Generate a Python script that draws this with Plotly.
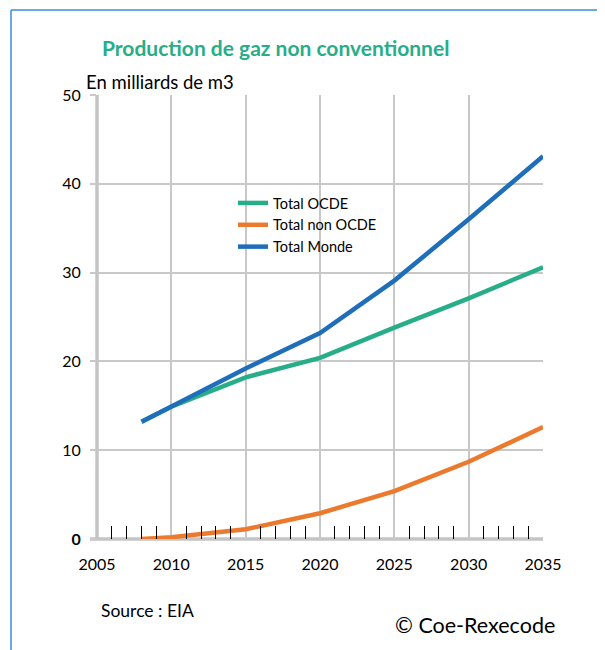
import plotly.graph_objects as go

years = [2008, 2010, 2015, 2020, 2025, 2030, 2035]
ocde = [13.2, 14.9, 18.2, 20.4, 23.8, 27.1, 30.6]
non_ocde = [0.0, 0.2, 1.1, 2.9, 5.4, 8.7, 12.6]
monde = [13.2, 14.9, 19.2, 23.2, 29.1, 36.0, 43.1]

series_names = ["Total OCDE", "Total non OCDE", "Total Monde"]
colors = ["#27AE88", "#EB7A2F", "#1F6EBA"]

x_ticks = [2005, 2010, 2015, 2020, 2025, 2030, 2035]
minor_ticks = [y for y in range(2006, 2035) if y % 5 != 0]
y_ticks = [0, 10, 20, 30, 40, 50]
y_labels = ["<b>0</b>", "10", "20", "30", "40", "50"]

OFF = 8  # page body margin
W, H = 605, 650
# target plot area in page pixels: x 97..543, y 95..539
L = 97 - OFF
T = 95 - OFF
R = W - (543 - OFF)
B = H - (539 - OFF)
pw, ph = W - L - R, H - T - B

def px(xp):
    return (xp - OFF - L) / pw

def py(yp):
    return (H - B - (yp - OFF)) / ph

fig = go.Figure()
for name, vals, col in zip(series_names, [ocde, non_ocde, monde], colors):
    fig.add_trace(go.Scatter(x=years, y=vals, mode="lines", name=name,
                             line=dict(color=col, width=4.5)))

font_family = "Lato, 'Open Sans', sans-serif"

fig.update_layout(
    width=W, height=H,
    margin=dict(l=L, r=R, t=T, b=B),
    paper_bgcolor="white", plot_bgcolor="white",
    font=dict(family=font_family, color="black"),
    showlegend=True,
    legend=dict(x=px(233), y=py(187), xanchor="left", yanchor="top",
                font=dict(size=14.5, color="black"), bgcolor="rgba(0,0,0,0)",
                itemwidth=30, tracegroupgap=0),
    xaxis=dict(range=[2005, 2035], tickvals=x_ticks, showgrid=True,
               gridcolor="#C8C8C8", gridwidth=1.5, zeroline=False,
               showline=False, ticks="", tickfont=dict(size=16),
               ticklabelstandoff=14,
               minor=dict(tickmode="array", tickvals=minor_ticks, ticks="inside",
                          ticklen=13, tickcolor="black", tickwidth=1, showgrid=False)),
    yaxis=dict(range=[0, 50], tickvals=y_ticks, ticktext=y_labels, showgrid=True,
               gridcolor="#C8C8C8", gridwidth=1.5, zeroline=False,
               showline=False, ticks="outside", ticklen=6, tickcolor="#C8C8C8",
               tickwidth=1.5, tickfont=dict(size=16), ticklabelstandoff=6),
)

# thicker axis lines
fig.add_shape(type="line", xref="paper", yref="paper", x0=0, x1=0, y0=0, y1=1,
              line=dict(color="#C4C4C4", width=3.5), layer="below")
fig.add_shape(type="line", xref="paper", yref="paper", x0=-7 / pw, x1=1, y0=0, y1=0,
              line=dict(color="#C4C4C4", width=3.5), layer="below")

# outer frame (blue)
fx0 = px(11)
fy1 = py(10)
fig.add_shape(type="line", xref="paper", yref="paper", x0=fx0, x1=fx0, y0=-2, y1=fy1,
              line=dict(color="#3A8DD8", width=1.5))
fig.add_shape(type="line", xref="paper", yref="paper", x0=fx0, x1=3, y0=fy1, y1=fy1,
              line=dict(color="#3A8DD8", width=1.5))

fig.add_annotation(text="<b>Production de gaz non conventionnel</b>", xref="paper", yref="paper",
                   x=px(275), y=py(47), xanchor="center", yanchor="middle", showarrow=False,
                   font=dict(size=21, color="#27AE88", family=font_family))
fig.add_annotation(text="En milliards de m3", xref="paper", yref="paper",
                   x=px(84), y=py(82), xanchor="left", yanchor="middle", showarrow=False,
                   font=dict(size=18.5, color="black", family=font_family))
fig.add_annotation(text="Source : EIA", xref="paper", yref="paper",
                   x=px(99), y=py(610), xanchor="left", yanchor="middle", showarrow=False,
                   font=dict(size=17.5, color="black", family=font_family))
fig.add_annotation(text="© Coe-Rexecode", xref="paper", yref="paper",
                   x=px(557), y=py(625), xanchor="right", yanchor="middle", showarrow=False,
                   font=dict(size=21.5, color="black", family=font_family))

fig.write_html("out.html")
